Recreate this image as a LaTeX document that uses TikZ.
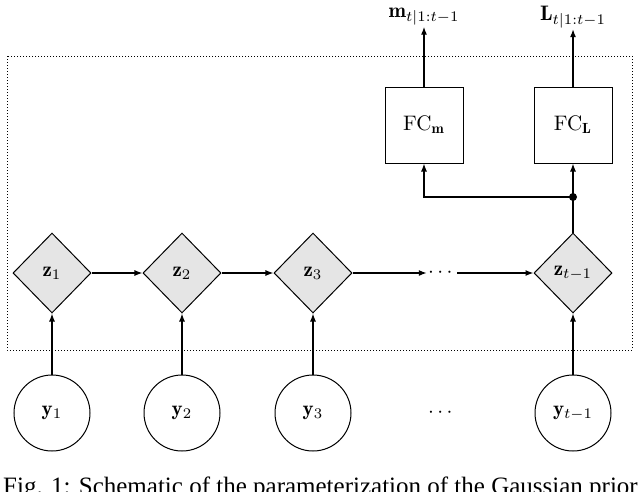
\documentclass[tikz,border=0pt]{standalone}
\usepackage{amsmath}
\usepackage{graphicx}
\usepackage{fontspec}
\newfontfamily\capfont{Liberation Serif}
\newcommand{\bigtxt}[1]{\scalebox{2.1}{#1}}
\usetikzlibrary{shapes.geometric,arrows.meta}
\begin{document}
\begin{tikzpicture}[x=1pt,y=-1pt,
    lat/.style={diamond, draw, fill=gray!20, line width=1pt, minimum width=78pt, minimum height=80pt, inner sep=0pt},
    obs/.style={circle, draw, line width=1pt, minimum size=76pt, inner sep=0pt},
    fc/.style={rectangle, draw, line width=1pt, minimum width=78pt, minimum height=76pt},
    lbl/.style={inner sep=1pt},
    arr/.style={-{Latex[length=8pt,width=6pt]}, line width=1.3pt}]
  \useasboundingbox (0,0) rectangle (640,491);
  \begin{scope}
  \clip (0,0) rectangle (640,491);
  \draw[dotted, line width=1pt] (7,56) rectangle (632,350);

  \node[lat] (z1) at (52,273) {\bigtxt{$\mathbf{z}_1$}};
  \node[lat] (z2) at (182,273) {\bigtxt{$\mathbf{z}_2$}};
  \node[lat] (z3) at (313,273) {\bigtxt{$\mathbf{z}_3$}};
  \node[lbl] (zd) at (442,273) {\bigtxt{$\cdots$}};
  \node[lat] (zt) at (573,273) {\bigtxt{$\mathbf{z}_{t-1}$}};

  \node[obs] (y1) at (52,413) {\bigtxt{$\mathbf{y}_1$}};
  \node[obs] (y2) at (182,413) {\bigtxt{$\mathbf{y}_2$}};
  \node[obs] (y3) at (313,413) {\bigtxt{$\mathbf{y}_3$}};
  \node[lbl] (yd) at (442,413) {\bigtxt{$\cdots$}};
  \node[obs] (yt) at (573,413) {\bigtxt{$\mathbf{y}_{t-1}$}};

  \node[fc] (fcm) at (424,125) {\bigtxt{FC$_{\mathbf{m}}$}};
  \node[fc] (fcl) at (573,125) {\bigtxt{FC$_{\mathbf{L}}$}};
  \node[lbl] (m) at (424,17) {\bigtxt{$\mathbf{m}_{t|1:t-1}$}};
  \node[lbl] (l) at (573,17) {\bigtxt{$\mathbf{L}_{t|1:t-1}$}};
  \coordinate (j) at (573,197);
  \coordinate (jm) at (424,197);
  \fill (j) circle (4pt);

  \draw[arr] (z1) -- (z2);
  \draw[arr] (z2) -- (z3);
  \draw[arr] (z3) -- (zd);
  \draw[arr] (zd) -- (zt);
  \draw[arr] (y1) -- (z1);
  \draw[arr] (y2) -- (z2);
  \draw[arr] (y3) -- (z3);
  \draw[arr] (yt) -- (zt);
  \draw[line width=1.3pt] (zt.north) -- (j);
  \draw[arr] (j) -- (fcl.south);
  \draw[arr] (j) -- (jm) -- (fcm.south);
  \draw[arr] (fcm) -- (m);
  \draw[arr] (fcl) -- (l);

  \node[anchor=west, inner sep=0pt, font=\capfont\fontsize{25}{28}\selectfont] (cap) at (3,488)
    {Fig. 1: Schematic of the parameterization of the Gaussian prior};
  \end{scope}
\end{tikzpicture}
\end{document}
